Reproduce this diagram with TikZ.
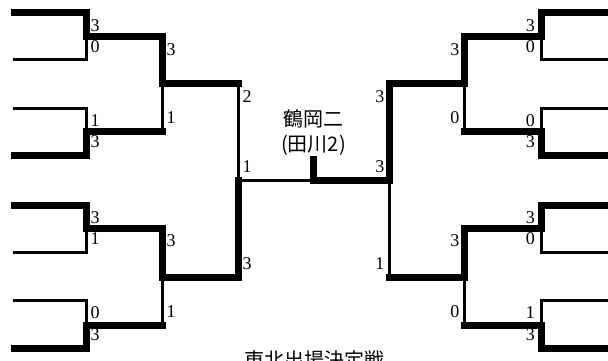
\documentclass[tikz,border=0pt]{standalone}
\usepackage{fontspec}
\setmainfont{Liberation Serif}
\newfontfamily\jpfont{Noto Sans CJK JP}

\begin{document}
\begin{tikzpicture}[x=1pt,y=-1pt,line cap=rect,
  won/.style={line width=7pt},
  lost/.style={line width=3pt},
  score/.style={inner sep=0pt,font=\fontsize{18}{18}\selectfont},
  jp/.style={inner sep=0pt,font=\jpfont\fontsize{20}{25}\selectfont,align=center}]
\useasboundingbox (0,0) rectangle (608,361);
\clip (0,0) rectangle (608,361);
% left half: start / joint / in / out / horizontal / vertical
\foreach \a/\b/\y/\m/\h/\v in {
  14/86/13/37/won/won, 14/86/60/37/lost/lost, 14/86/108/131/lost/lost, 14/86/155/131/won/won,
  14/86/205/228/won/won, 14/86/252/228/lost/lost, 14/86/300/325/lost/lost, 14/86/348/325/won/won,
  86/162/37/84/won/won, 86/162/131/84/won/lost, 86/162/228/277/won/won, 86/162/325/277/won/lost,
  162/238/84/180/won/lost, 162/238/277/180/won/won}
  {\draw[\h] (\a,\y) -- (\b,\y); \draw[\v] (\b,\y) -- (\b,\m);}
% right half
\foreach \a/\b/\y/\m/\h/\v in {
  613/541/13/37/won/won, 613/541/60/37/lost/lost, 613/541/108/131/lost/lost, 613/541/155/131/won/won,
  613/541/205/228/won/won, 613/541/252/228/lost/lost, 613/541/300/325/lost/lost, 613/541/348/325/won/won,
  541/464/37/84/won/won, 541/464/131/84/won/lost, 541/464/228/277/won/won, 541/464/325/277/won/lost,
  464/389/84/180/won/won, 464/389/277/180/won/lost}
  {\draw[\h] (\a,\y) -- (\b,\y); \draw[\v] (\b,\y) -- (\b,\m);}
% final
\draw[lost] (238,180) -- (313.5,180);
\draw[won] (389,180) -- (313.5,180) -- (313.5,159.5);
% scores
\foreach \x/\y/\s [count=\i] in {
  90.5/26/3, 90.5/47/0, 90.5/121/1, 90.5/142/3, 90.5/218/3, 90.5/239/1, 90.5/313/0, 90.5/335/3,
  166.5/50/3, 166.5/118/1, 166.5/241/3, 166.5/312/1,
  242.5/97/2, 242.5/264/3, 242.5/167/1}
  \node[score,anchor=west] (sl\i) at (\x,\y) {\s};
\foreach \x/\y/\s [count=\i] in {
  535/26/3, 535/47/0, 535/121/0, 535/142/3, 535/218/3, 535/239/0, 535/313/1, 535/335/3,
  459.5/50/3, 459.5/118/0, 459.5/241/3, 459.5/312/0,
  384.5/97/3, 384.5/264/1, 384.5/167/3}
  \node[score,anchor=east] (sr\i) at (\x,\y) {\s};
\node[jp] (champ) at (313.5,132.5) {鶴岡二\\(田川2)};
\node[jp] (title) at (314,360) {東北出場決定戦};
\end{tikzpicture}
\end{document}
